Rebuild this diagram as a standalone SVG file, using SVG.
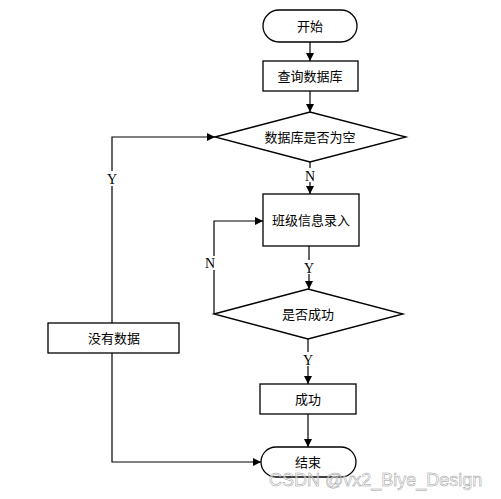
<svg xmlns="http://www.w3.org/2000/svg" width="501" height="499" viewBox="0 0 501 499">
<style>
.s{fill:#fff;stroke:#000;stroke-width:1.3}
.t{font-family:"Liberation Sans","Noto Sans CJK SC",sans-serif;font-size:13px;fill:#000;text-anchor:middle}
.l{font-family:"Liberation Serif","Noto Sans CJK SC",serif;font-size:14px;fill:#000;text-anchor:middle}
.c{fill:none;stroke:#000;stroke-width:1.2}
.w{font-family:"Liberation Sans","DejaVu Sans",sans-serif;font-size:18px;fill:#fff;fill-opacity:0.6;stroke:#999;stroke-width:0.5;text-anchor:start}
</style>
<defs>
<marker id="a" viewBox="0 0 10 10" refX="10" refY="5" markerWidth="8" markerHeight="8" markerUnits="userSpaceOnUse" orient="auto"><path d="M0,0L10,5L0,10z" fill="#000"/></marker>
</defs>
<rect width="501" height="499" fill="#fff"/>
<g id="connectors">
<path class="c" d="M310,42V61" marker-end="url(#a)"/>
<path class="c" d="M310,91V112" marker-end="url(#a)"/>
<path class="c" d="M310,162V194" marker-end="url(#a)"/>
<path class="c" d="M309,246V289" marker-end="url(#a)"/>
<path class="c" d="M214,314V221H263" marker-end="url(#a)"/>
<path class="c" d="M308,339V384" marker-end="url(#a)"/>
<path class="c" d="M308,414V447" marker-end="url(#a)"/>
<path class="c" d="M112,323V137H215" marker-end="url(#a)"/>
<path class="c" d="M112,353V462H261" marker-end="url(#a)"/>
<rect x="304" y="168" width="12" height="14" fill="#fff"/>
<text class="l" x="310" y="181">N</text>
<rect x="106" y="171" width="12" height="15" fill="#fff"/>
<text class="l" x="112" y="184">Y</text>
<rect x="303" y="260" width="12" height="14" fill="#fff"/>
<text class="l" x="309" y="273">Y</text>
<rect x="204" y="256" width="12" height="14" fill="#fff"/>
<text class="l" x="210" y="268">N</text>
<rect x="302" y="352" width="12" height="14" fill="#fff"/>
<text class="l" x="308" y="365">Y</text>
</g>
<g id="start"><rect class="s" x="263" y="10" width="94" height="32" rx="16"/><text class="t" x="310" y="31">开始</text></g>
<g id="query"><rect class="s" x="263" y="61" width="95" height="30"/><text class="t" x="310" y="81">查询数据库</text></g>
<g id="isEmpty"><path class="s" d="M215,137L310,112L406,137L310,162z"/><text class="t" x="310" y="142">数据库是否为空</text></g>
<g id="input"><rect class="s" x="263" y="194" width="96" height="52"/><text class="t" x="311" y="225">班级信息录入</text></g>
<g id="isSuccess"><path class="s" d="M214,314L308,289L403,314L308,339z"/><text class="t" x="308" y="319">是否成功</text></g>
<g id="success"><rect class="s" x="260" y="384" width="96" height="30"/><text class="t" x="308" y="404">成功</text></g>
<g id="noData"><rect class="s" x="48" y="323" width="131" height="30"/><text class="t" x="114" y="343">没有数据</text></g>
<g id="end"><rect class="s" x="261" y="447" width="95" height="30" rx="15"/><text class="t" x="308" y="467">结束</text></g>
<text class="w" x="269" y="486">CSDN @vx2_Biye_Design</text>
</svg>
